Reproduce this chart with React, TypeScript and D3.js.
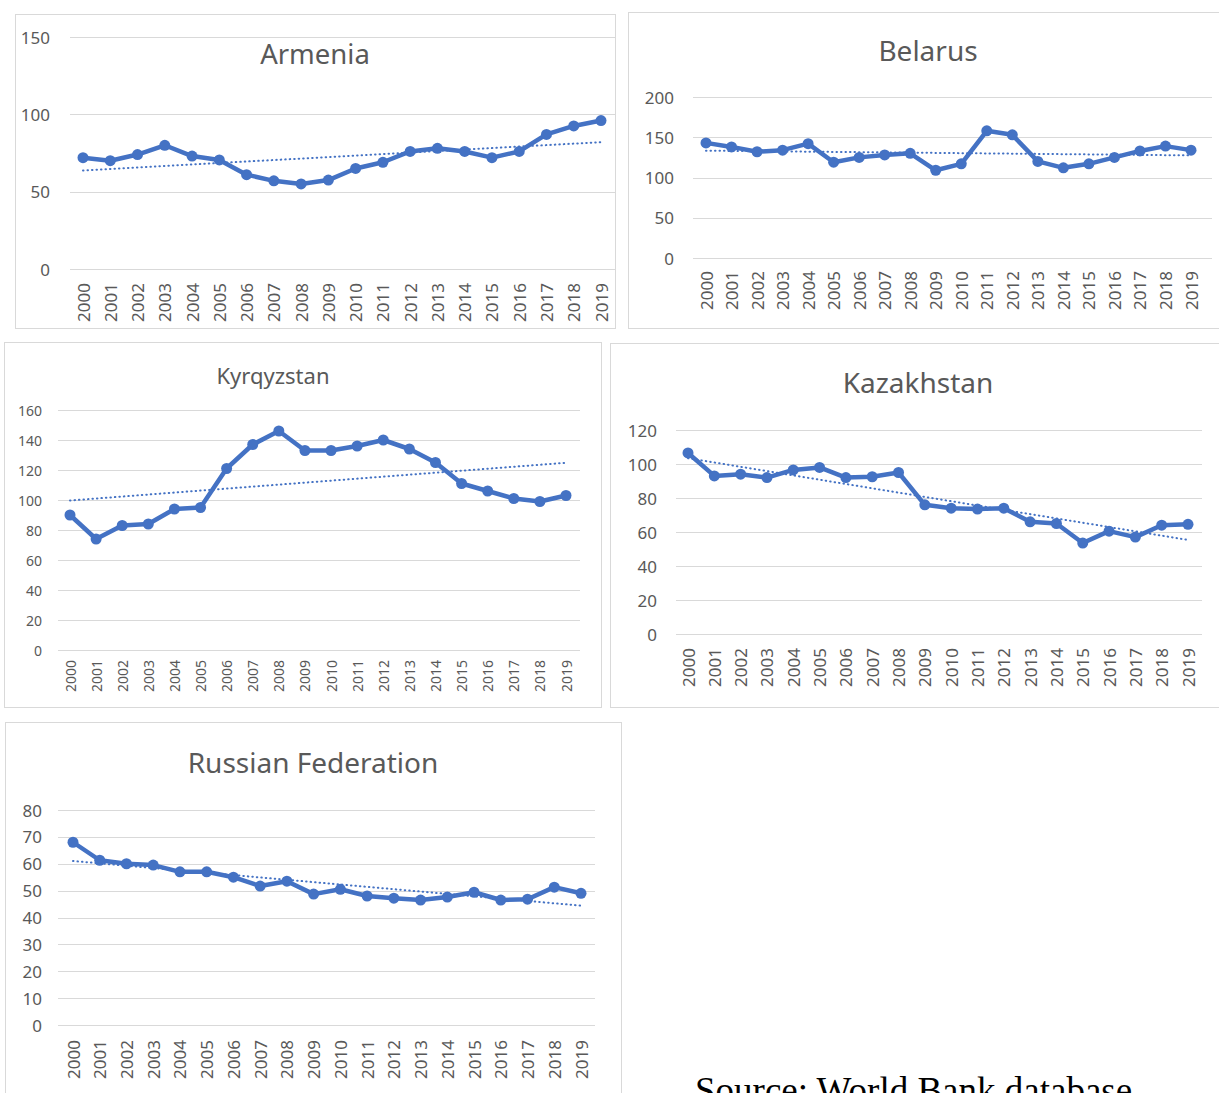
import * as d3 from "d3";
import React from "react";

// years shared by every panel
const years = d3.range(2000, 2020).map(String);

// values
const armenia = [72, 70, 74, 80, 73, 70.5, 61, 57, 55, 57.5, 65, 69, 76, 78, 76, 72, 76, 87, 92.5, 96];
const belarus = [143, 138, 132, 134, 142, 119, 125, 128, 130, 109, 117, 158, 153, 120, 112, 117, 125, 133, 139, 134];
const kyrgyzstan = [90, 74, 83, 84, 94, 95, 121, 137, 146, 133, 133, 136, 140, 134, 125, 111, 106, 101, 99, 103];
const kazakhstan = [106.5, 93, 94, 92, 96.5, 98, 92, 92.5, 95, 76, 74, 73.5, 74, 66, 65, 53.5, 60.5, 57, 64, 64.5];
const russia = [68, 61.3, 60, 59.5, 57, 57, 55, 51.7, 53.5, 48.7, 50.5, 48, 47.2, 46.5, 47.6, 49.4, 46.5, 46.8, 51.3, 49];

const armeniaTicks = [0, 50, 100, 150];
const belarusTicks = [0, 50, 100, 150, 200];
const kyrgyzstanTicks = [0, 20, 40, 60, 80, 100, 120, 140, 160];
const kazakhstanTicks = [0, 20, 40, 60, 80, 100, 120];
const russiaTicks = [0, 10, 20, 30, 40, 50, 60, 70, 80];

const BLUE = "#4472C4";
const GREY = "#595959";
const FONT = "'Noto Sans', 'Open Sans', sans-serif";

type PanelProps = {
  title: string;
  values: number[];
  ticks: number[];
  box: [number, number, number, number];
  px: [number, number]; // first / last point x
  gx: [number, number]; // gridline extent
  py: [number, number]; // pixel of 0 and of max tick
  labelX: number;
  yearTop: number;
  font: number;
  title_: [number, number, number];
};

// least-squares trend, like Excel's linear trendline
function trend(values: number[]) {
  const n = values.length;
  const xs = d3.range(n);
  const mx = d3.mean(xs)!;
  const my = d3.mean(values)!;
  const b = d3.sum(xs, (x, i) => (x - mx) * (values[i] - my)) / d3.sum(xs, x => (x - mx) ** 2);
  const a = my - b * mx;
  return [a, a + b * (n - 1)];
}

const Panel = ({title, values, ticks, box, px, gx, py, labelX, yearTop, font, title_}: PanelProps) => {
  const x = d3.scalePoint().domain(years).range(px);
  const y = d3.scaleLinear().domain([0, ticks[ticks.length - 1]]).range(py);
  const line = d3.line<number>().x((_, i) => x(years[i])!).y(d => y(d));
  const [t0, t1] = trend(values);

  return (
    <g>
      <rect x={box[0] + 0.5} y={box[1] + 0.5} width={box[2]} height={box[3]} fill="white" stroke="#d9d9d9"/>
      <text x={title_[0]} y={title_[1]} fontSize={title_[2]} fill={GREY} textAnchor="middle"
            dominantBaseline="central" fontFamily={FONT}>{title}</text>
      {ticks.map(t => (
        <g key={t}>
          <line x1={gx[0]} x2={gx[1]} y1={Math.round(y(t)) + 0.5} y2={Math.round(y(t)) + 0.5} stroke="#d9d9d9"/>
          <text x={labelX} y={y(t)} fontSize={font} fill={GREY} textAnchor="end" dominantBaseline="central"
                fontFamily={FONT}>{t}</text>
        </g>
      ))}
      {years.map(yr => (
        <text key={yr} transform={`translate(${x(yr)},${yearTop}) rotate(-90)`} fontSize={font} fill={GREY}
              textAnchor="end" dominantBaseline="central" fontFamily={FONT}>{yr}</text>
      ))}
      <line x1={x(years[0])} x2={x(years[years.length - 1])} y1={y(t0)} y2={y(t1)} stroke={BLUE}
            strokeWidth={2} strokeDasharray="0.5,4" strokeLinecap="round"/>
      <path d={line(values)!} fill="none" stroke={BLUE} strokeWidth={4.5} strokeLinejoin="round"/>
      {values.map((v, i) => (
        <circle key={i} cx={x(years[i])} cy={y(v)} r={5.5} fill={BLUE}/>
      ))}
    </g>
  );
};

export default function App() {
  return (
    <svg width={1219} height={1093} style={{position: "absolute", left: 0, top: 0, background: "white"}}>
      <Panel title="Armenia" values={armenia} ticks={armeniaTicks} box={[15, 14, 600, 314]}
             px={[83, 601]} gx={[70, 615]} py={[269, 37]} labelX={50} yearTop={283} font={17}
             title_={[315, 53, 27.5]}/>
      <Panel title="Belarus" values={belarus} ticks={belarusTicks} box={[628, 12, 591, 316]}
             px={[706, 1191]} gx={[693, 1212]} py={[258, 97]} labelX={674} yearTop={271} font={17}
             title_={[928, 50, 28]}/>
      <Panel title="Kyrqyzstan" values={kyrgyzstan} ticks={kyrgyzstanTicks} box={[4, 342, 597, 365]}
             px={[70, 566]} gx={[58, 580]} py={[650, 410]} labelX={42} yearTop={660} font={14}
             title_={[273, 375, 22]}/>
      <Panel title="Kazakhstan" values={kazakhstan} ticks={kazakhstanTicks} box={[610, 343, 609, 364]}
             px={[688, 1188]} gx={[676, 1202]} py={[634, 430]} labelX={657} yearTop={648} font={17}
             title_={[918, 382, 28]}/>
      <Panel title="Russian Federation" values={russia} ticks={russiaTicks} box={[5, 722, 616, 380]}
             px={[73, 581]} gx={[58, 595]} py={[1025, 810]} labelX={42} yearTop={1040} font={17}
             title_={[313, 762, 28]}/>
      <text x={695} y={1103} fontSize={37} fontFamily="'Liberation Serif', 'Times New Roman', serif"
            fill="black">Source: World Bank database</text>
    </svg>
  );
}
